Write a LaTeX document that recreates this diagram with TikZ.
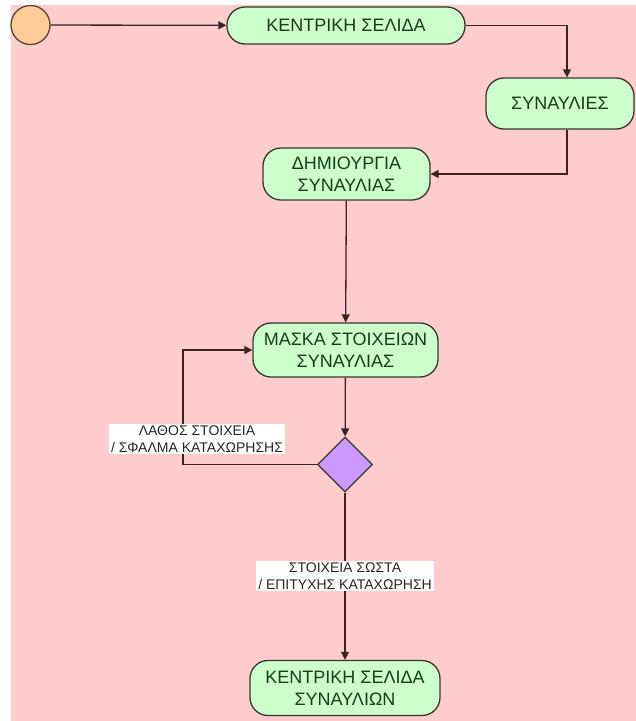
\documentclass[tikz,border=0pt]{standalone}
\usepackage{fontspec}
\setmainfont{Liberation Sans}
\usetikzlibrary{arrows.meta,shapes.geometric}

\definecolor{bgpink}{RGB}{255,204,204}
\definecolor{stategreen}{RGB}{204,255,204}
\definecolor{startorange}{RGB}{255,204,153}
\definecolor{choicepurple}{RGB}{204,153,255}
\definecolor{edgeline}{RGB}{60,35,35}
\definecolor{borderline}{RGB}{55,55,45}
\definecolor{statetext}{RGB}{25,60,25}

\tikzset{
  state/.style={draw=borderline, line width=1.3pt, fill=stategreen,
    rounded corners=18pt, align=center, inner sep=0pt,
    text=statetext, font=\fontsize{18}{22}\selectfont},
  startnode/.style={circle, draw=borderline!80!brown, line width=1.3pt,
    fill=startorange, minimum size=39pt, inner sep=0pt},
  choice/.style={diamond, draw=borderline, line width=1.3pt,
    fill=choicepurple, minimum width=55pt, minimum height=55pt, inner sep=0pt},
  flow/.style={draw=edgeline, line width=1.3pt,
    -{Triangle[length=8pt,width=8pt]}},
  guard/.style={fill=white, align=center, inner sep=2pt, text=black!85,
    font=\fontsize{14}{17}\selectfont}
}

\begin{document}
\begin{tikzpicture}[x=1pt,y=-1pt]
  \useasboundingbox (0,0) rectangle (636,721);
  \fill[white] (0,0) rectangle (636,721);
  \fill[bgpink] (11,5) rectangle (636,721);

  % states
  \node[startnode] (start) at (30.5,25) {};
  \node[state, minimum width=238pt, minimum height=37pt] (home) at (346,25.5) {ΚΕΝΤΡΙΚΗ ΣΕΛΙΔΑ};
  \node[state, minimum width=148pt, minimum height=51pt] (concerts) at (560,103.5) {ΣΥΝΑΥΛΙΕΣ};
  \node[state, minimum width=167pt, minimum height=52pt] (create) at (346.5,174) {ΔΗΜΙΟΥΡΓΙΑ\\ΣΥΝΑΥΛΙΑΣ};
  \node[state, minimum width=185pt, minimum height=54pt] (form) at (345.5,350) {ΜΑΣΚΑ ΣΤΟΙΧΕΙΩΝ\\ΣΥΝΑΥΛΙΑΣ};
  \node[choice] (check) at (345,464.5) {};
  \node[state, minimum width=190pt, minimum height=55pt] (done) at (345,688) {ΚΕΝΤΡΙΚΗ ΣΕΛΙΔΑ\\ΣΥΝΑΥΛΙΩΝ};

  % transitions
  \draw[flow] (start) -- (home);
  \draw[flow] (home.east) -| ([xshift=7pt]concerts.north);
  \draw[flow] ([xshift=7pt]concerts.south) |- (create.east);
  \draw[flow] (create) -- (form);
  \draw[flow] (form) -- (check);
  \draw[flow] (check.west) -- ++(-134,0) |- (form.west);
  \draw[flow] (check) -- (done);

  % guard labels
  \node[guard] (fail) at (197,439) {ΛΑΘΟΣ ΣΤΟΙΧΕΙΑ\\/ ΣΦΑΛΜΑ ΚΑΤΑΧΩΡΗΣΗΣ};
  \node[guard] (ok) at (345,576) {ΣΤΟΙΧΕΙΑ ΣΩΣΤΑ\\/ ΕΠΙΤΥΧΗΣ ΚΑΤΑΧΩΡΗΣΗ};
\end{tikzpicture}
\end{document}
